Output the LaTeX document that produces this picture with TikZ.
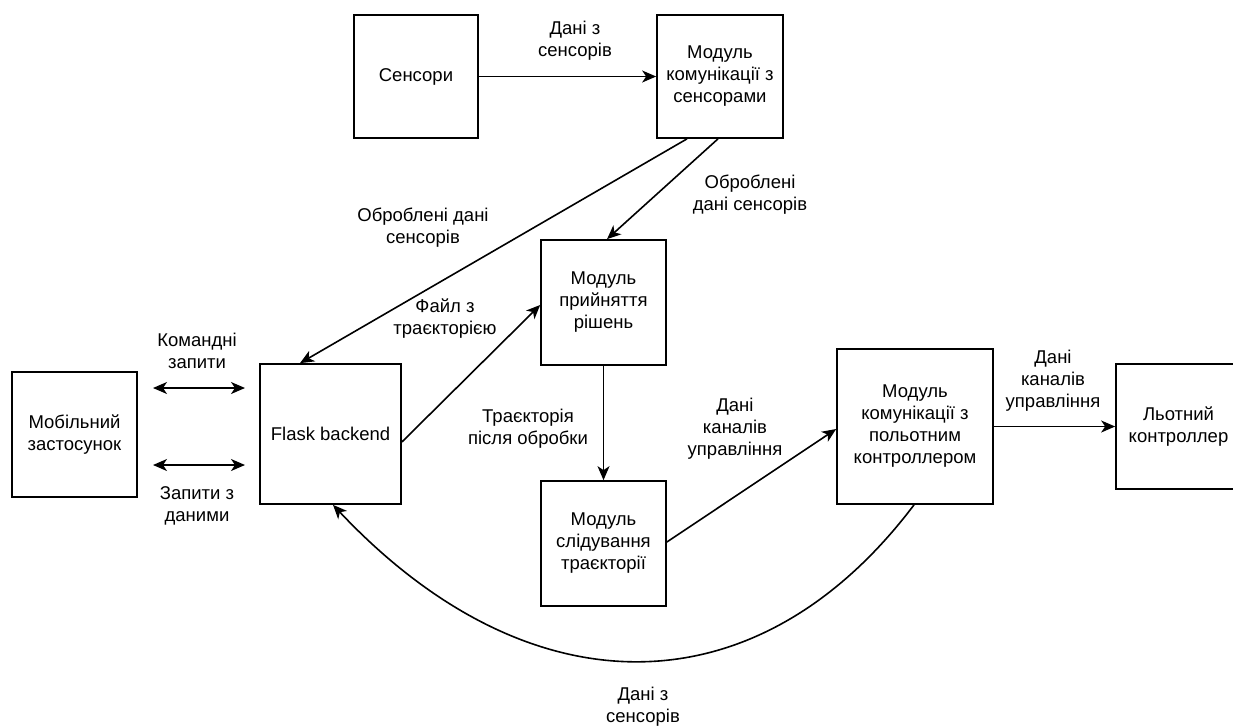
\documentclass[tikz,border=0pt]{standalone}
\usepackage{fontspec}
\setmainfont{Liberation Sans}
\usetikzlibrary{arrows.meta}
\begin{document}
\begin{tikzpicture}[x=1pt,y=-1pt,
  box/.style={draw, line width=1.7pt, inner sep=0pt, align=center,
              font=\fontsize{18.5}{22}\selectfont},
  lbl/.style={inner sep=0pt, align=center, font=\fontsize{18.5}{22}\selectfont},
  flow/.style={line width=1.6pt, -{Stealth[length=14pt,width=12pt,inset=4pt]}},
  both/.style={line width=1.6pt, {Stealth[length=14pt,width=12pt,inset=4pt]}-{Stealth[length=14pt,width=12pt,inset=4pt]}}]
\clip (0,0) rectangle (1233,726);
\fill[white] (0,0) rectangle (1233,726);

% modules
\node[box, minimum width=125pt, minimum height=125pt] (app)   at (74.5,434.5) {Мобільний\\застосунок};
\node[box, minimum width=141pt, minimum height=140pt] (flask) at (330.5,434)  {Flask backend};
\node[box, minimum width=124pt, minimum height=123pt] (sens)  at (416,76.5)   {Сенсори};
\node[box, minimum width=126pt, minimum height=123pt] (mks)   at (720,76.5)   {Модуль\\комунікації з\\сенсорами};
\node[box, minimum width=125pt, minimum height=125pt] (mpr)   at (603.5,302.5) {Модуль\\прийняття\\рішень};
\node[box, minimum width=125pt, minimum height=125pt] (mst)   at (603.5,543.5) {Модуль\\слідування\\траєкторії};
\node[box, minimum width=156pt, minimum height=155pt] (mkp)   at (915,426.5)  {Модуль\\комунікації з\\польотним\\контроллером};
\node[box, minimum width=125pt, minimum height=125pt] (lk)    at (1178.5,426.5) {Льотний\\контроллер};

% free ends of the request arrows
\coordinate (cmdL) at (153,388);
\coordinate (cmdR) at (245,388);
\coordinate (datL) at (153,465);
\coordinate (datR) at (245,465);

% connectors
\draw[flow] (sens.east) -- (mks.west);
\draw[flow] ([xshift=-33pt]mks.south) -- ([xshift=-30.5pt]flask.north);
\draw[flow] ([xshift=-2pt]mks.south) -- ([xshift=3.5pt]mpr.north);
\draw[flow] ([yshift=-8pt]flask.east) -- ([yshift=-2.5pt]mpr.west);
\draw[flow] (mpr.south) -- (mst.north);
\draw[flow] ([yshift=1.5pt]mst.east) -- ([yshift=-2.5pt]mkp.west);
\draw[flow] (mkp.east) -- (lk.west);
\draw[flow] ([xshift=-1pt]mkp.south) .. controls (757,713) and (529,713) .. ([xshift=2.5pt]flask.south);
\draw[both] (cmdL) -- (cmdR);
\draw[both] (datL) -- (datR);

% labels
\node[lbl] (l1)  at (575,41)   {Дані з\\сенсорів};
\node[lbl] (l2)  at (423,228)  {Оброблені дані\\сенсорів};
\node[lbl] (l3)  at (750,195)  {Оброблені\\дані сенсорів};
\node[lbl] (l4)  at (445,319)  {Файл з\\траєкторією};
\node[lbl] (l5)  at (197,351)  {Командні\\запити};
\node[lbl] (l6)  at (197,506)  {Запити з\\даними};
\node[lbl] (l7)  at (528,429)  {Траєкторія\\після обробки};
\node[lbl] (l8)  at (735,429)  {Дані\\каналів\\управління};
\node[lbl] (l9)  at (1053,381) {Дані\\каналів\\управління};
\node[lbl] (l10) at (643,707)  {Дані з\\сенсорів};
\end{tikzpicture}
\end{document}
